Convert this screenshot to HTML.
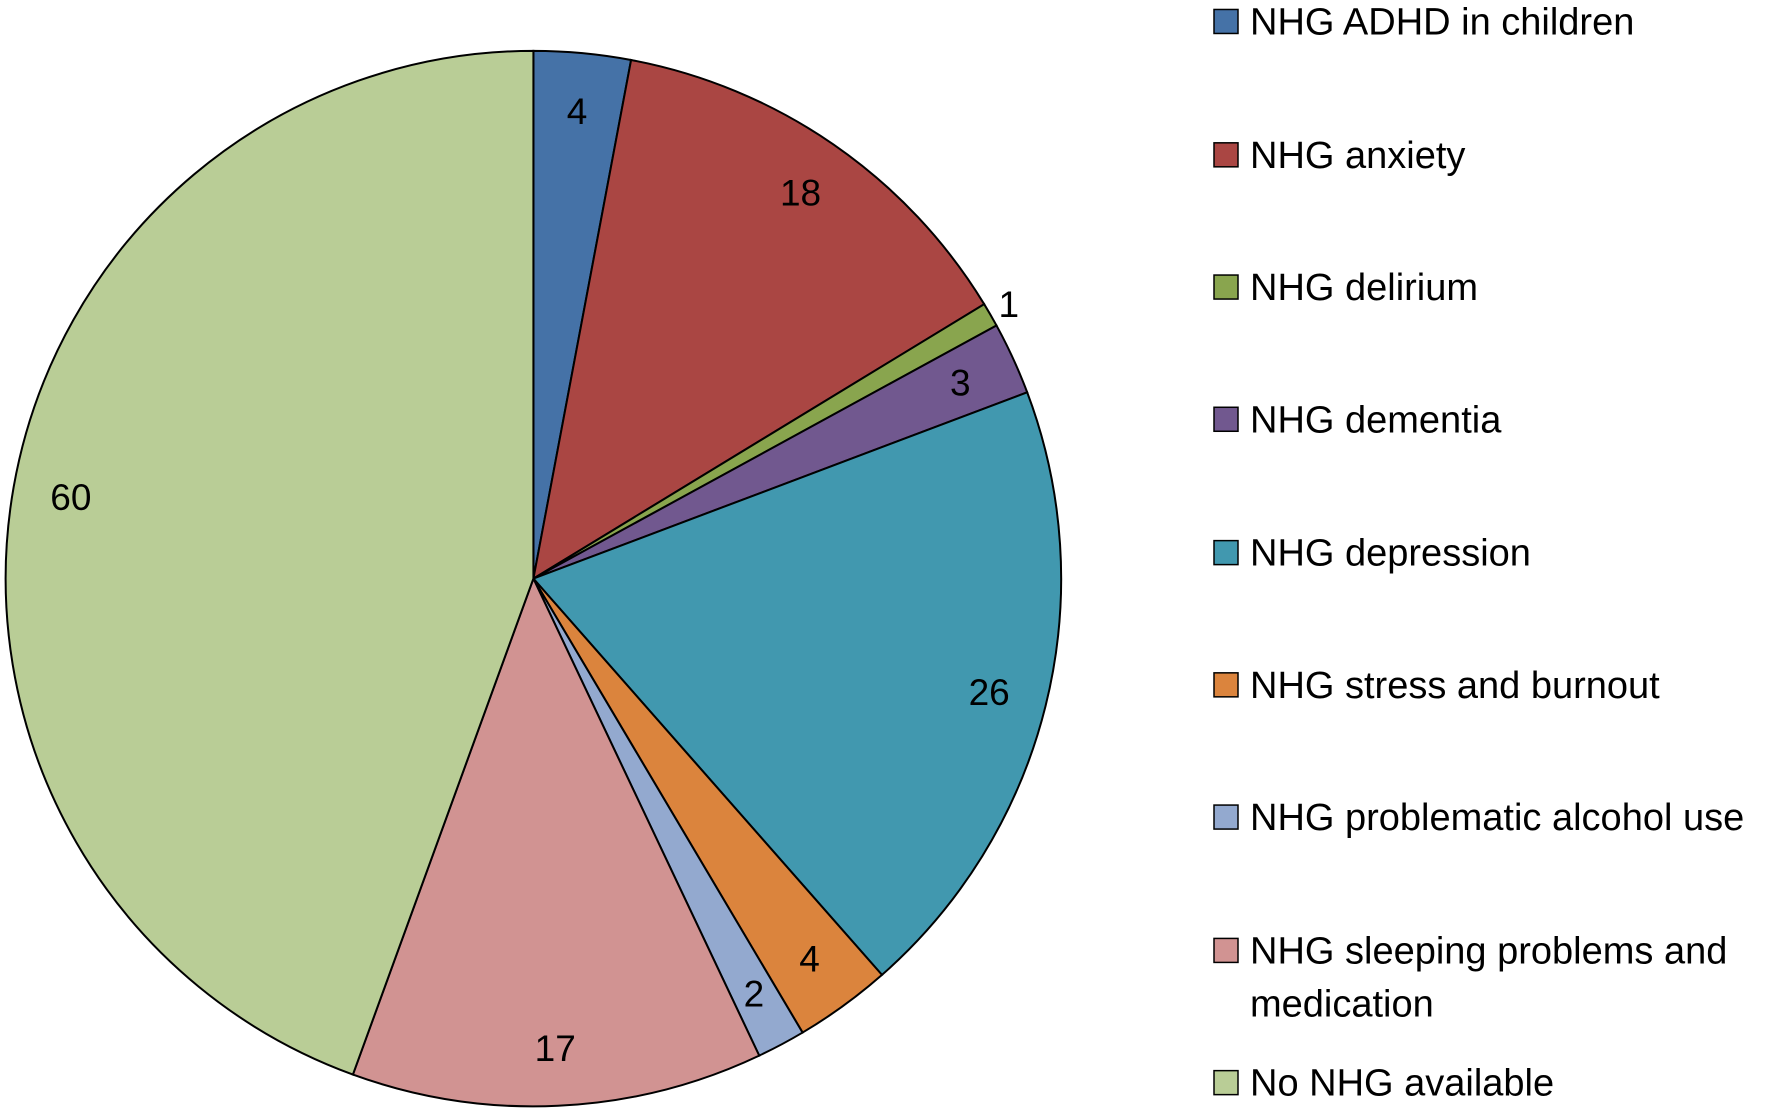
<!DOCTYPE html>
<html><head><meta charset="utf-8"><style>
body{margin:0;background:#fff;width:1772px;height:1114px;overflow:hidden}
svg text{font-family:"Liberation Sans",sans-serif}
</style></head><body>
<svg id="chart" width="1772" height="1114"></svg>
<script>
const categories=["NHG ADHD in children","NHG anxiety","NHG delirium","NHG dementia","NHG depression","NHG stress and burnout","NHG problematic alcohol use","NHG sleeping problems and medication","No NHG available"];
const values=[4,18,1,3,26,4,2,17,60];
const colors=["#4572A7","#AA4643","#89A54E","#71588F","#4198AF","#DB843D","#93A9CF","#D19392","#B9CD96"];
const svg=document.getElementById('chart');
const NS="http://www.w3.org/2000/svg";
const S=1772/1568;
const cx=472*S,cy=512*S,r=467*S;
const total=values.reduce((a,b)=>a+b,0);
function pt(a,rr){return [cx+rr*Math.sin(a),cy-rr*Math.cos(a)];}
let acc=0;
values.forEach((v,i)=>{
  const a0=acc/total*2*Math.PI;acc+=v;const a1=acc/total*2*Math.PI;
  const p0=pt(a0,r),p1=pt(a1,r);
  const large=(a1-a0)>Math.PI?1:0;
  const p=document.createElementNS(NS,'path');
  p.setAttribute('d',`M${cx},${cy}L${p0[0]},${p0[1]}A${r},${r} 0 ${large} 1 ${p1[0]},${p1[1]}Z`);
  p.setAttribute('fill',colors[i]);p.setAttribute('stroke','#000');p.setAttribute('stroke-width','2');
  
  
  svg.appendChild(p);
});
acc=0;
values.forEach((v,i)=>{
  const am=(acc+v/2)/total*2*Math.PI;acc+=v;
  const rr=v<=1?r*1.04:r*0.89;
  const q=pt(am,rr);
  const t=document.createElementNS(NS,'text');
  t.setAttribute('x',q[0]);t.setAttribute('y',q[1]+13);
  t.setAttribute('text-anchor','middle');t.setAttribute('font-size','37');
  t.textContent=v;
  
  
  svg.appendChild(t);
});
const rowsY=[19,137,254,371,489,606,723,841,958];
categories.forEach((c,i)=>{
  const y=rowsY[i]*S;
  const g=document.createElementNS(NS,'g');
  
  
  const rc=document.createElementNS(NS,'rect');
  rc.setAttribute('x',1214);rc.setAttribute('y',y-12);rc.setAttribute('width',24);rc.setAttribute('height',24);
  rc.setAttribute('fill',colors[i]);rc.setAttribute('stroke','#000');rc.setAttribute('stroke-width','1.5');
  g.appendChild(rc);
  const parts=i===7?["NHG sleeping problems and","medication"]:[c];
  parts.forEach((s,j)=>{
    const t=document.createElementNS(NS,'text');
    t.setAttribute('x',1250);t.setAttribute('y',y+13+j*53);t.setAttribute('font-size','38');
    t.textContent=s;g.appendChild(t);
  });
  svg.appendChild(g);
});
</script>
</body></html>
